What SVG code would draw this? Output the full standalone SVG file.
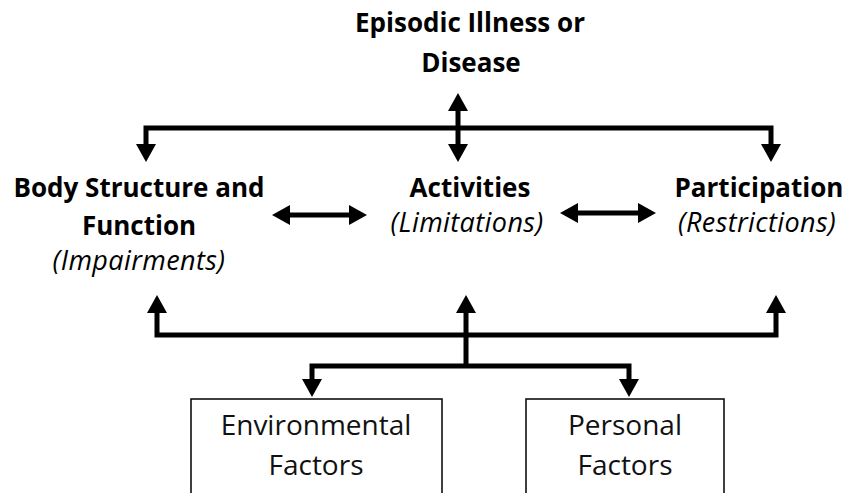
<svg xmlns="http://www.w3.org/2000/svg" width="848" height="493" viewBox="0 0 848 493">
<style>
text{font-family:"Open Sans","Liberation Sans",sans-serif;fill:#000;text-anchor:middle}
.b{font-weight:bold;font-size:26px}
.i{font-style:italic;font-size:27px;letter-spacing:0.4px}
.n{font-size:28px;fill:#111}
.c{fill:none;stroke:#000;stroke-width:5;stroke-linejoin:miter}
.box{fill:#fff;stroke:#000;stroke-width:1.5}
</style>
<defs>
<marker id="ah" viewBox="0 0 18 20" refX="10" refY="10" markerWidth="18" markerHeight="20" markerUnits="userSpaceOnUse" orient="auto-start-reverse">
<path d="M0,0 L18,10 L0,20 z" fill="#000"/>
</marker>
</defs>
<g id="connectors">
<path class="c" d="M146,154 V128 H771 V154" marker-start="url(#ah)" marker-end="url(#ah)"/>
<line class="c" x1="458" y1="101" x2="458" y2="154" marker-start="url(#ah)" marker-end="url(#ah)"/>
<line class="c" x1="280" y1="215" x2="359" y2="215" marker-start="url(#ah)" marker-end="url(#ah)"/>
<line class="c" x1="568" y1="213" x2="648" y2="213" marker-start="url(#ah)" marker-end="url(#ah)"/>
<path class="c" d="M157,303 V335 H776 V303" marker-start="url(#ah)" marker-end="url(#ah)"/>
<line class="c" x1="466" y1="303" x2="466" y2="366" marker-start="url(#ah)"/>
<path class="c" d="M312,389 V366 H629 V389" marker-start="url(#ah)" marker-end="url(#ah)"/>
</g>
<g id="episodic">
<text class="b" x="470" y="32">Episodic Illness or</text>
<text class="b" x="471" y="72">Disease</text>
</g>
<g id="body">
<text class="b" x="139" y="197">Body Structure and</text>
<text class="b" x="139" y="235">Function</text>
<text class="i" x="139" y="270">(Impairments)</text>
</g>
<g id="activities">
<text class="b" x="470" y="197">Activities</text>
<text class="i" x="467" y="232">(Limitations)</text>
</g>
<g id="participation">
<text class="b" x="759" y="197">Participation</text>
<text class="i" x="757" y="232">(Restrictions)</text>
</g>
<g id="environmental">
<rect class="box" x="191" y="399" width="251" height="100"/>
<text class="n" x="316" y="435">Environmental</text>
<text class="n" x="316" y="475">Factors</text>
</g>
<g id="personal">
<rect class="box" x="526" y="399" width="198" height="100"/>
<text class="n" x="625" y="435">Personal</text>
<text class="n" x="625" y="475">Factors</text>
</g>
</svg>
